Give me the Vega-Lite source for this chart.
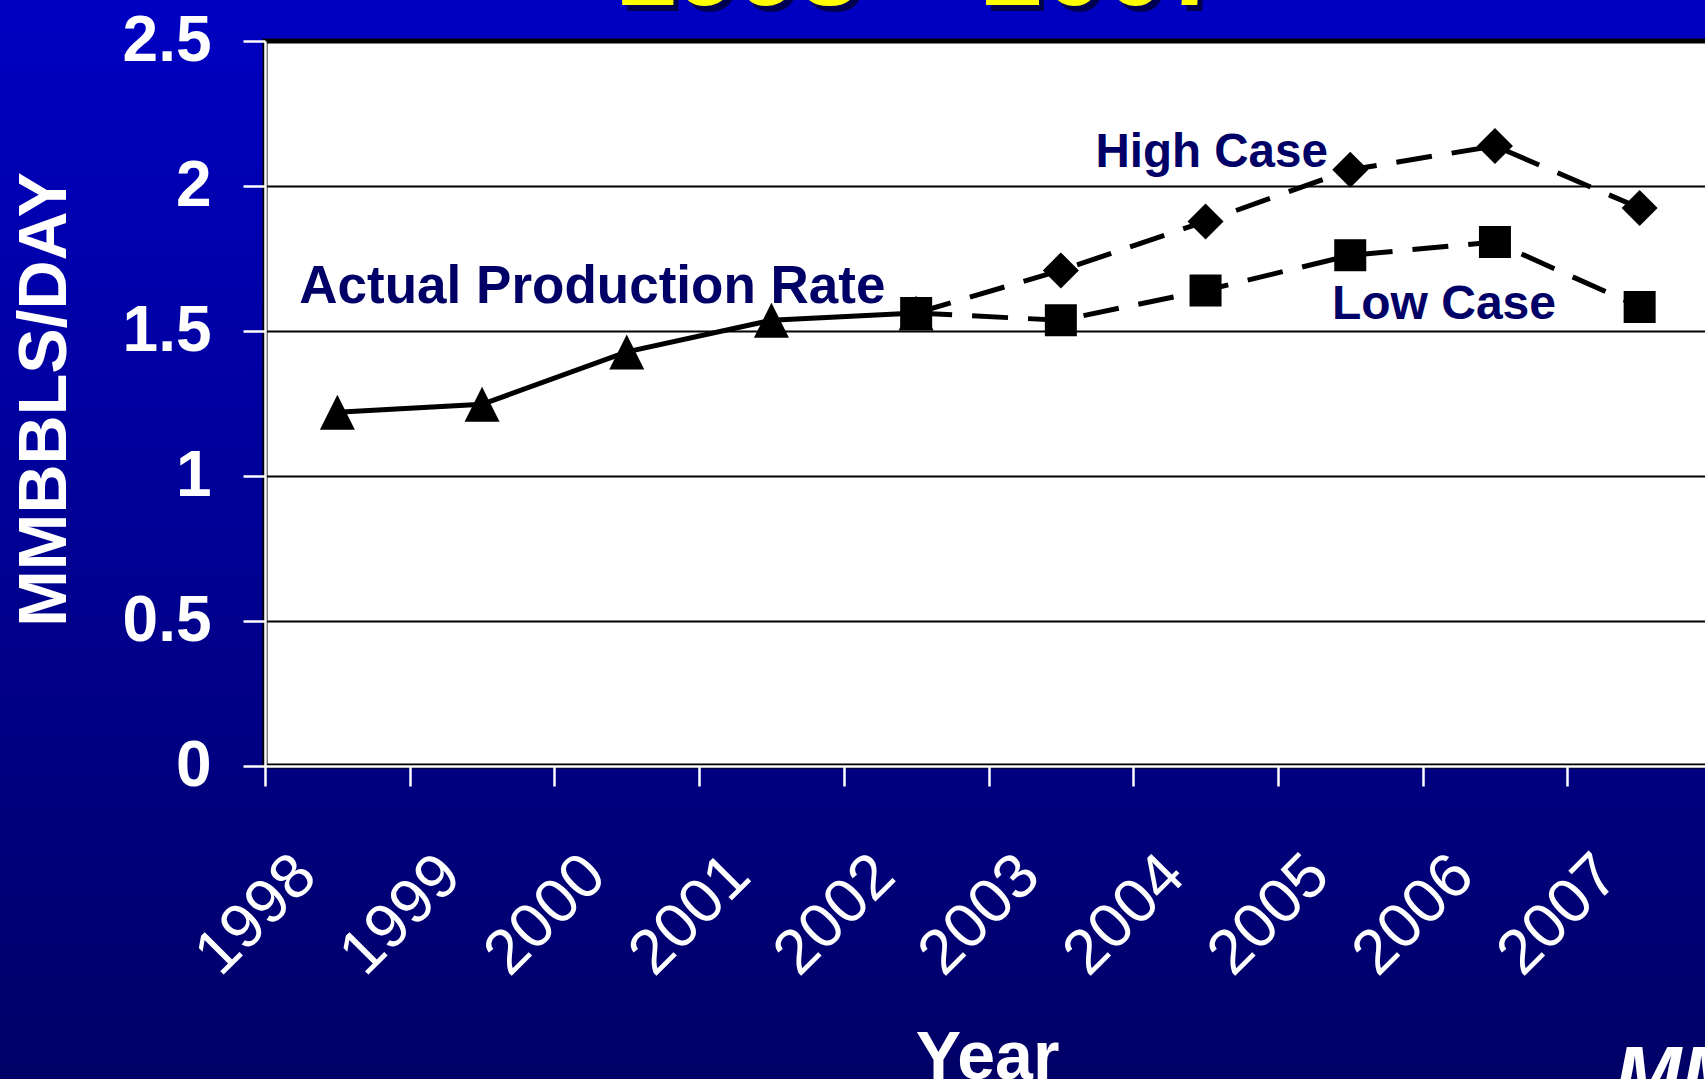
{
  "$schema": "https://vega.github.io/schema/vega-lite/v6.json",
  "width": 1440,
  "height": 725,
  "autosize": {"type": "none"},
  "padding": {"left": 265, "top": 41, "right": 0, "bottom": 313},
  "background": "#000066",
  "config": {"view": {"stroke": null}, "font": "Liberation Sans"},
  "datasets": {
    "series": [
      {"series": "Actual", "year": "1998", "value": 1.22},
      {"series": "Actual", "year": "1999", "value": 1.247},
      {"series": "Actual", "year": "2000", "value": 1.428},
      {"series": "Actual", "year": "2001", "value": 1.537},
      {"series": "Actual", "year": "2002", "value": 1.562},
      {"series": "High", "year": "2002", "value": 1.562},
      {"series": "High", "year": "2003", "value": 1.709},
      {"series": "High", "year": "2004", "value": 1.878},
      {"series": "High", "year": "2005", "value": 2.056},
      {"series": "High", "year": "2006", "value": 2.138},
      {"series": "High", "year": "2007", "value": 1.924},
      {"series": "Low", "year": "2002", "value": 1.562},
      {"series": "Low", "year": "2003", "value": 1.537},
      {"series": "Low", "year": "2004", "value": 1.64},
      {"series": "Low", "year": "2005", "value": 1.761},
      {"series": "Low", "year": "2006", "value": 1.807},
      {"series": "Low", "year": "2007", "value": 1.583}
    ],
    "labels": [
      {"label": "Actual Production Rate", "year": "1998", "value": 1.597},
      {"label": "High Case", "year": "2004", "value": 2.065},
      {"label": "Low Case", "year": "2006", "value": 1.543},
      {"label": "1998 – 2007", "year": "2002", "value": 2.625},
      {"label": "MMS", "year": "2007", "value": -1.158}
    ]
  },
  "layer": [
    {
      "data": {"values": [{}]},
      "mark": {
        "type": "rect",
        "fill": {
          "gradient": "linear", "x1": 0, "y1": 0, "x2": 0, "y2": 1,
          "stops": [{"offset": 0, "color": "#0000C2"}, {"offset": 1, "color": "#000066"}]
        }
      },
      "encoding": {
        "x": {"value": -265}, "x2": {"value": 1440},
        "y": {"value": -41}, "y2": {"value": 1038}
      }
    },
    {
      "data": {"values": [{}]},
      "mark": {"type": "rect", "fill": "white", "stroke": "black", "strokeWidth": 5},
      "encoding": {
        "x": {"value": 0}, "x2": {"value": 1447},
        "y": {"value": 0}, "y2": {"value": 725}
      }
    },
    {
      "encoding": {
        "x": {
          "field": "year", "type": "ordinal",
          "scale": {"type": "band", "domain": ["1998","1999","2000","2001","2002","2003","2004","2005","2006","2007"], "range": [0, 1447], "paddingInner": 0, "paddingOuter": 0},
          "axis": {
            "orient": "bottom", "tickBand": "extent", "zindex": 1,
            "domainColor": "white", "domainWidth": 2.5,
            "ticks": true, "tickColor": "white", "tickSize": 20, "tickWidth": 2.5,
            "labelColor": "white", "labelFontSize": 63, "labelFontWeight": "normal", "labelFont": "Liberation Sans",
            "labelAngle": -45, "labelAlign": "right", "labelBaseline": "middle",
            "labelOffset": -32, "labelPadding": 79, "labelOverlap": false, "labelBound": false, "labelFlush": false,
            "grid": false,
            "title": "Year", "titleColor": "white", "titleFontSize": 68, "titleFontWeight": "bold", "titleFont": "Liberation Sans",
            "titleX": 722, "titleY": 312, "titleAlign": "center", "titleBaseline": "alphabetic", "titleAnchor": null
          }
        },
        "y": {
          "field": "value", "type": "quantitative",
          "scale": {"domain": [0, 2.5], "nice": false, "zero": false},
          "axis": {
            "orient": "left", "zindex": 1, "values": [0, 0.5, 1, 1.5, 2, 2.5], "format": ".1~f",
            "domainColor": "white", "domainWidth": 2.5,
            "tickColor": "white", "tickSize": 22, "tickWidth": 2.5,
            "labelColor": "white", "labelFontSize": 64, "labelFontWeight": "bold", "labelFont": "Liberation Sans",
            "labelPadding": 32, "labelBaseline": "middle",
            "grid": true, "gridColor": "black", "gridWidth": 2, "gridOpacity": 1,
            "title": "MMBBLS/DAY", "titleColor": "white", "titleFontSize": 68, "titleFontWeight": "bold", "titleFont": "Liberation Sans",
            "titleX": -200, "titleY": 358, "titleAlign": "center", "titleBaseline": "alphabetic", "titleAngle": -90
          }
        }
      },
      "layer": [
        {
          "data": {"name": "series"},
          "transform": [{"filter": "datum.series === 'Actual'"}],
          "mark": {"type": "line", "color": "black", "strokeWidth": 5}
        },
        {
          "data": {"name": "series"},
          "transform": [{"filter": "datum.series !== 'Actual'"}],
          "mark": {"type": "line", "color": "black", "strokeWidth": 5, "strokeDash": [36, 20]},
          "encoding": {"detail": {"field": "series"}}
        },
        {
          "data": {"name": "series"},
          "transform": [{"filter": "datum.series === 'Actual'"}],
          "mark": {"type": "point", "filled": true, "color": "black", "opacity": 1, "shape": "M-1,1L0,-1L1,1Z", "size": 1225}
        },
        {
          "data": {"name": "series"},
          "transform": [{"filter": "datum.series === 'High' && datum.year !== '2002'"}],
          "mark": {"type": "point", "filled": true, "color": "black", "opacity": 1, "shape": "diamond", "size": 1296}
        },
        {
          "data": {"name": "series"},
          "transform": [{"filter": "datum.series === 'Low'"}],
          "mark": {"type": "point", "filled": true, "color": "black", "opacity": 1, "shape": "square", "size": 1024}
        },
        {
          "data": {"name": "labels"},
          "transform": [{"filter": "datum.label === 'Actual Production Rate'"}],
          "mark": {"type": "text", "align": "left", "baseline": "alphabetic", "dx": -38, "fontSize": 53, "fontWeight": "bold", "color": "#000066"},
          "encoding": {"text": {"field": "label"}}
        },
        {
          "data": {"name": "labels"},
          "transform": [{"filter": "datum.label === 'High Case'"}],
          "mark": {"type": "text", "align": "left", "baseline": "alphabetic", "dx": -110, "fontSize": 47.5, "fontWeight": "bold", "color": "#000066"},
          "encoding": {"text": {"field": "label"}}
        },
        {
          "data": {"name": "labels"},
          "transform": [{"filter": "datum.label === 'Low Case'"}],
          "mark": {"type": "text", "align": "left", "baseline": "alphabetic", "dx": -163, "fontSize": 48, "fontWeight": "bold", "color": "#000066"},
          "encoding": {"text": {"field": "label"}}
        },
        {
          "data": {"name": "labels"},
          "transform": [{"filter": "datum.label === '1998 – 2007'"}],
          "mark": {"type": "text", "align": "center", "baseline": "alphabetic", "dx": 10, "dy": 6, "fontSize": 110, "fontWeight": "bold", "color": "#000050"},
          "encoding": {"text": {"field": "label"}}
        },
        {
          "data": {"name": "labels"},
          "transform": [{"filter": "datum.label === '1998 – 2007'"}],
          "mark": {"type": "text", "align": "center", "baseline": "alphabetic", "dx": 5, "fontSize": 110, "fontWeight": "bold", "color": "#FFFF00"},
          "encoding": {"text": {"field": "label"}}
        },
        {
          "data": {"name": "labels"},
          "transform": [{"filter": "datum.label === 'MMS'"}],
          "mark": {"type": "text", "align": "left", "baseline": "alphabetic", "dx": -25, "fontSize": 80, "fontWeight": "bold", "fontStyle": "italic", "color": "white"},
          "encoding": {"text": {"field": "label"}}
        }
      ]
    }
  ]
}
